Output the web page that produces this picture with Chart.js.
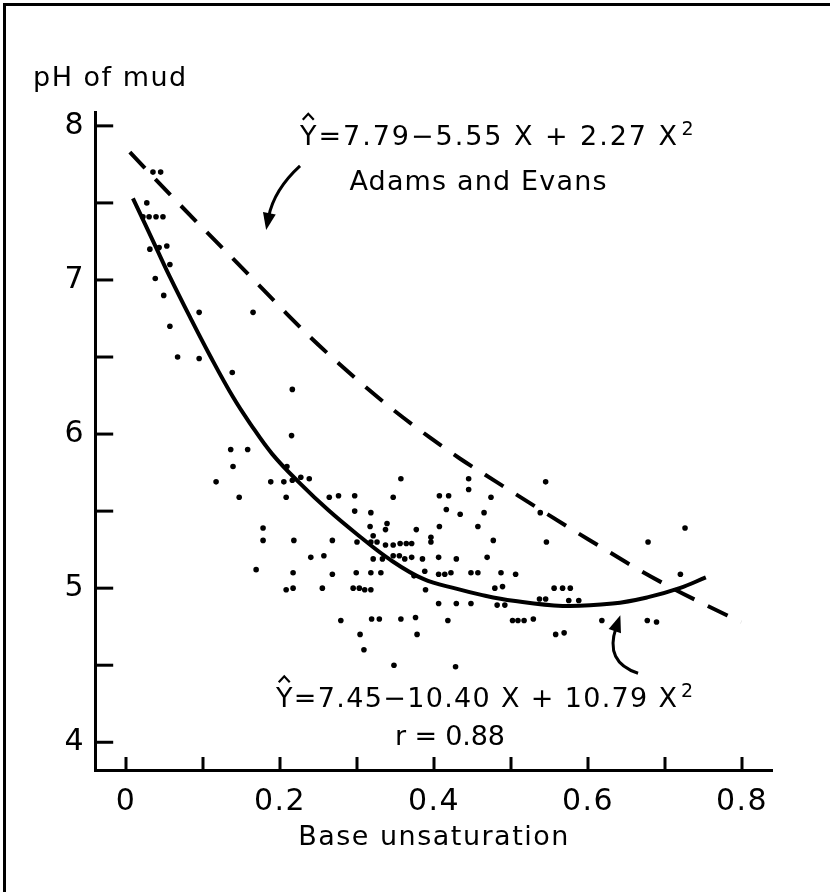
<!DOCTYPE html>
<html><head><meta charset="utf-8">
<script src="https://cdn.jsdelivr.net/npm/chart.js@4/dist/chart.umd.min.js"></script>
<style>html,body{margin:0;padding:0;background:#fff;}canvas{display:block;}</style>
</head><body>
<canvas id="c" width="830" height="892"></canvas>
<script>
// ---- data ----
const scatterX = [
  0.035,0.045,0.027,0.022,0.030,0.039,0.048,0.031,0.043,0.053,0.057,0.038,0.049,0.095,0.165,0.057,0.067,0.095,
  0.138,0.216,0.215,0.136,0.158,0.139,0.209,0.117,0.188,0.205,0.216,0.147,0.208,0.178,0.178,0.218,0.169,0.217,0.208,0.217,
  0.227,0.238,0.357,0.445,0.445,0.264,0.276,0.297,0.347,0.407,0.419,0.297,0.318,0.416,0.434,0.465,0.339,0.317,0.337,0.377,
  0.407,0.457,0.321,0.396,0.268,0.300,0.318,0.326,0.337,0.347,0.356,0.364,0.371,0.396,0.240,0.257,0.321,0.333,0.347,0.355,
  0.362,0.371,0.385,0.406,0.429,0.469,0.268,0.299,0.318,0.331,0.374,0.388,0.406,0.414,0.422,0.448,0.457,0.255,0.295,0.303,
  0.310,0.318,0.389,0.406,0.429,0.448,0.279,0.319,0.329,0.357,0.376,0.418,0.304,0.378,0.309,0.348,0.428,
  0.545,0.474,0.538,0.726,0.477,0.546,0.678,0.487,0.506,0.720,0.479,0.489,0.556,0.567,0.577,0.537,0.545,0.575,0.588,0.482,
  0.492,0.502,0.509,0.517,0.529,0.618,0.677,0.689,0.558,0.569
];
const scatterY = [
  7.70,7.70,7.50,7.41,7.41,7.41,7.41,7.20,7.21,7.22,7.10,7.01,6.90,6.79,6.79,6.70,6.50,6.49,
  6.40,6.29,5.99,5.90,5.90,5.79,5.79,5.69,5.69,5.69,5.70,5.59,5.59,5.39,5.31,5.31,5.12,5.10,4.99,5.00,
  5.72,5.71,5.71,5.71,5.64,5.59,5.60,5.60,5.59,5.60,5.60,5.50,5.49,5.51,5.48,5.49,5.42,5.40,5.38,5.38,
  5.40,5.40,5.34,5.33,5.31,5.30,5.30,5.30,5.28,5.28,5.29,5.29,5.29,5.30,5.20,5.21,5.19,5.19,5.21,5.21,
  5.19,5.20,5.19,5.20,5.19,5.20,5.09,5.10,5.10,5.10,5.08,5.11,5.09,5.09,5.10,5.10,5.10,5.00,5.00,5.00,
  4.99,4.99,4.99,4.90,4.90,4.90,4.79,4.80,4.80,4.80,4.81,4.79,4.70,4.70,4.60,4.50,4.49,
  5.69,5.59,5.49,5.39,5.31,5.30,5.30,5.10,5.09,5.09,5.00,5.01,5.00,5.00,5.00,4.93,4.93,4.92,4.92,4.89,
  4.89,4.79,4.79,4.79,4.80,4.79,4.79,4.78,4.70,4.71
];
// fitted curve (solid)
const fitX = [0.009,0.040,0.057,0.083,0.109,0.139,0.161,0.190,0.226,0.263,0.300,0.343,0.386,0.430,0.460,0.503,0.567,0.632,0.677,0.719,0.753];
const fitY = [7.53,7.20,7.02,6.76,6.51,6.24,6.07,5.87,5.68,5.505,5.35,5.185,5.06,4.995,4.958,4.918,4.885,4.90,4.94,5.00,5.07];
// Adams and Evans curve (dashed)
const adamsX = [0.005,0.060,0.168,0.203,0.239,0.276,0.310,0.349,0.394,0.434,0.481,0.522,0.573,0.616,0.659,0.702,0.745,0.799];
const adamsY = [7.83,7.54,6.99,6.81,6.63,6.46,6.31,6.15,5.98,5.84,5.69,5.56,5.40,5.27,5.14,5.02,4.91,4.78];
// ticks
const xTickValues = [0,0.1,0.2,0.3,0.4,0.5,0.6,0.7,0.8];
const xTickLabels = ['0','','0.2','','0.4','','0.6','','0.8'];
const yTickValues = [4,4.5,5,5.5,6,6.5,7,7.5,8];
const yTickLabels = ['4','','5','','6','','7','','8'];
// texts
const xTitle = 'Base unsaturation';
const yTitle = 'pH of mud';
const eqAdams = 'Y=7.79\u22125.55 X + 2.27 X';
const eqAdamsName = 'Adams and Evans';
const eqFit = 'Y=7.45\u221210.40 X + 10.79 X';
const rText = 'r = 0.88';
const supText = '2';

const FONT = "'DejaVu Sans', sans-serif";
const SPACING = '1.5px';
const toPts = (xs, ys) => xs.map((x, i) => ({x: x, y: ys[i]}));

function spanText(c, txt, x0, x1, yBase, size) {
  c.font = size + 'px ' + FONT;
  c.letterSpacing = '0px';
  const w = c.measureText(txt).width;
  const n = [...txt].length;
  const ls = n > 1 ? (x1 - x0 - w) / (n - 1) : 0;
  c.letterSpacing = ls + 'px';
  c.textAlign = 'left';
  c.textBaseline = 'alphabetic';
  c.fillText(txt, x0, yBase);
  c.letterSpacing = '0px';
}
function hat(c, cx, yTop) {
  c.lineWidth = 2.2;
  c.lineJoin = 'miter';
  c.beginPath();
  c.moveTo(cx - 5.5, yTop + 6); c.lineTo(cx, yTop); c.lineTo(cx + 5.5, yTop + 6);
  c.stroke();
}
function arrow(c, p0, cp, p1) {
  c.lineWidth = 3;
  const ang = Math.atan2(p1.y - cp.y, p1.x - cp.x);
  const L = 17, W = 6.5;
  const bx = p1.x - (L - 4) * Math.cos(ang), by = p1.y - (L - 4) * Math.sin(ang);
  c.beginPath(); c.moveTo(p0.x, p0.y); c.quadraticCurveTo(cp.x, cp.y, bx, by); c.stroke();
  c.beginPath();
  c.moveTo(p1.x, p1.y);
  c.lineTo(p1.x - L * Math.cos(ang) + W * Math.sin(ang), p1.y - L * Math.sin(ang) - W * Math.cos(ang));
  c.lineTo(p1.x - L * Math.cos(ang) - W * Math.sin(ang), p1.y - L * Math.sin(ang) + W * Math.cos(ang));
  c.closePath(); c.fill();
}

const decor = {
  id: 'decor',
  afterInit(chart) { chart.ctx.letterSpacing = SPACING; },
  beforeUpdate(chart) { chart.ctx.letterSpacing = SPACING; },
  beforeDraw(chart) {
    const c = chart.ctx;
    c.save(); c.fillStyle = '#fff'; c.fillRect(0, 0, chart.width, chart.height); c.restore();
    c.letterSpacing = SPACING;
  },
  afterDraw(chart) {
    const c = chart.ctx, xs = chart.scales.x, ys = chart.scales.y, a = chart.chartArea;
    const X = v => xs.getPixelForValue(v), Y = v => ys.getPixelForValue(v);
    const P = (x, y) => ({x: X(x), y: Y(y)});
    c.save();
    c.letterSpacing = '0px';
    c.strokeStyle = '#000'; c.fillStyle = '#000';
    // page frame
    c.lineWidth = 3;
    c.beginPath(); c.moveTo(4.5, chart.height); c.lineTo(4.5, 4.5); c.lineTo(chart.width, 4.5); c.stroke();
    // inward tick marks
    c.lineCap = 'butt'; c.lineWidth = 3;
    yTickValues.forEach(v => { const py = Y(v); c.beginPath(); c.moveTo(a.left, py); c.lineTo(a.left + 18, py); c.stroke(); });
    xTickValues.forEach(v => { const px = X(v); c.beginPath(); c.moveTo(px, a.bottom); c.lineTo(px, a.bottom - 13); c.stroke(); });
    // Adams and Evans equation
    c.font = '27px ' + FONT;
    const yW = c.measureText('Y').width;
    const e1x0 = X(0.226), e1x1 = X(0.7156), e1y = Y(7.877);
    spanText(c, eqAdams, e1x0, e1x1, e1y, 27);
    hat(c, e1x0 + yW / 2, e1y - 31);
    c.font = '19px ' + FONT; c.fillText(supText, X(0.7215), Y(7.942));
    const aw = X(0.3338) - X(0), an0 = X(0.4571) - aw / 2;
    spanText(c, eqAdamsName, an0, an0 + aw, Y(7.584), 27);
    // fitted equation
    const e2x0 = X(0.1948), e2x1 = X(0.7156), e2y = Y(4.227);
    spanText(c, eqFit, e2x0, e2x1, e2y, 27);
    hat(c, e2x0 + yW / 2, e2y - 31);
    c.font = '19px ' + FONT; c.fillText(supText, X(0.7208), Y(4.292));
    const rw = X(0.1429) - X(0), r0 = X(0.4208) - rw / 2;
    spanText(c, rText, r0, r0 + rw, Y(3.981), 27);
    // arrows
    arrow(c, P(0.226, 7.740), P(0.192, 7.584), P(0.182, 7.325));
    arrow(c, P(0.665, 4.448), P(0.621, 4.52), P(0.642, 4.825));
    c.restore();
  }
};

new Chart(document.getElementById('c'), {
  type: 'scatter',
  data: {
    datasets: [
      {label: 'Observed', data: toPts(scatterX, scatterY), showLine: false, pointRadius: 2.8,
       pointBackgroundColor: '#000', pointBorderWidth: 0, pointBorderColor: '#000'},
      {label: 'Fitted', data: toPts(fitX, fitY), showLine: true, borderColor: '#000', borderWidth: 4,
       pointRadius: 0, tension: 0.4, fill: false},
      {label: 'Adams and Evans', data: toPts(adamsX, adamsY), showLine: true, borderColor: '#000', borderWidth: 4,
       borderDash: [22, 15], pointRadius: 0, cubicInterpolationMode: 'monotone', fill: false}
    ]
  },
  options: {
    responsive: false, animation: false, devicePixelRatio: 1,
    layout: {padding: {left: 33, right: 57.2, top: 0, bottom: 0}},
    plugins: {
      legend: {display: false}, tooltip: {enabled: false},
      title: {display: true, text: yTitle, align: 'start', color: '#000',
              font: {family: FONT, size: 27, weight: 'normal'}, padding: {top: 62.8, bottom: 16.8}}
    },
    scales: {
      x: {
        type: 'linear', min: -0.04, max: 0.84,
        afterBuildTicks: s => { s.ticks = xTickValues.map(v => ({value: v})); },
        afterFit: s => { s.height = 122; },
        grid: {display: false, drawTicks: false},
        border: {display: true, color: '#000', width: 3},
        ticks: {color: '#000', font: {family: FONT, size: 30}, padding: 14, maxRotation: 0, autoSkip: false,
                callback: (v, i) => xTickLabels[i]},
        title: {display: true, text: xTitle, color: '#000', font: {family: FONT, size: 27},
                padding: {top: 0, bottom: 37.8}}
      },
      y: {
        type: 'linear', min: 3.82, max: 8.09,
        afterBuildTicks: s => { s.ticks = yTickValues.map(v => ({value: v})); },
        afterFit: s => { s.width = 62.2; },
        grid: {display: false, drawTicks: false},
        border: {display: true, color: '#000', width: 3},
        ticks: {color: '#000', font: {family: FONT, size: 30}, padding: 10, autoSkip: false,
                callback: (v, i) => yTickLabels[i]}
      }
    }
  },
  plugins: [decor]
});
</script>
</body></html>
